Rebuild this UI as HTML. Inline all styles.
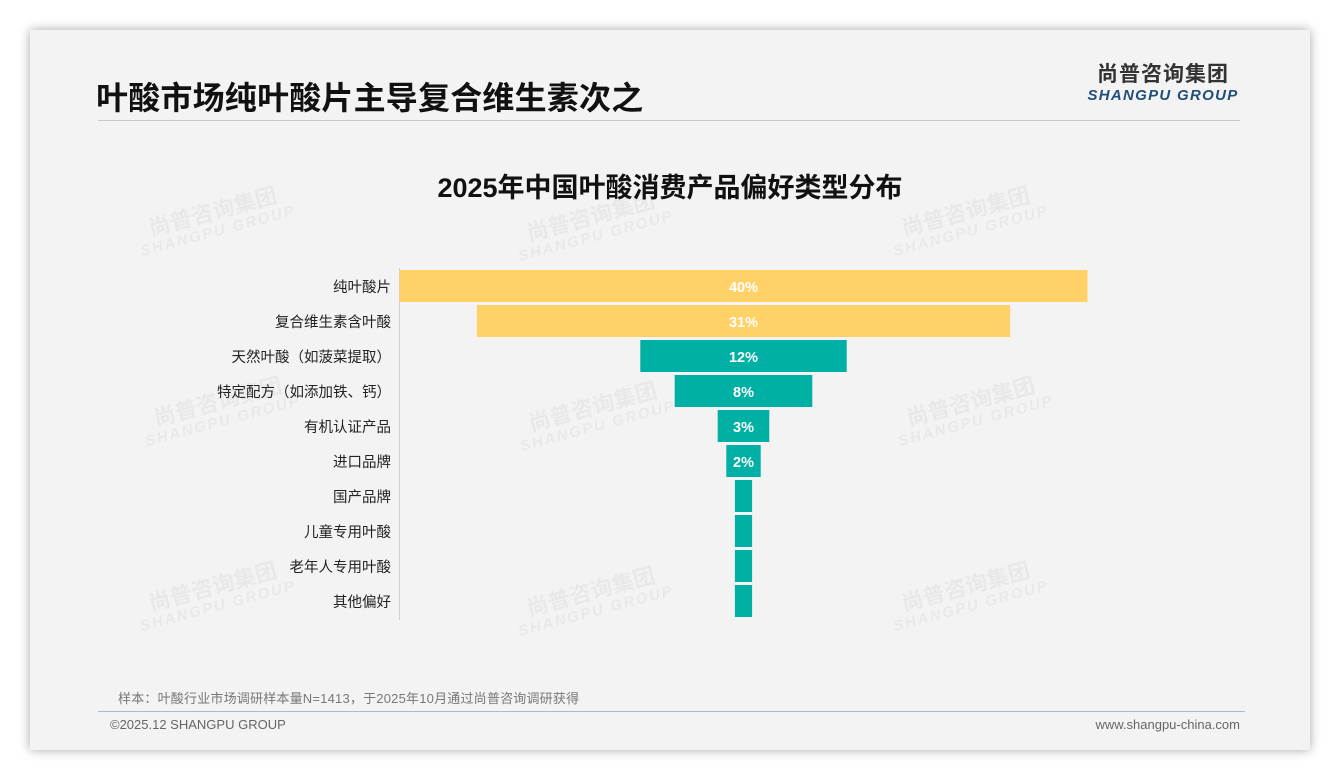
<!DOCTYPE html>
<html><head><meta charset="utf-8"><style>
body{margin:0;width:1340px;height:780px;background:#fff;position:relative;overflow:hidden;font-family:"Liberation Sans","Noto Sans CJK SC",sans-serif;}
#card{position:absolute;left:30px;top:30px;width:1280px;height:720px;background:#f3f3f3;box-shadow:0 0 10px rgba(0,0,0,0.35);}
.abs{position:absolute;}
.wm{position:absolute;color:rgba(0,0,0,0.045);transform:rotate(-15deg);font-weight:bold;line-height:1.1;text-align:center;}
</style></head><body>
<div id="card"></div>
<div class="abs" style="left:96px;top:73px;font-size:32px;font-weight:bold;color:#111;letter-spacing:0.2px;">叶酸市场纯叶酸片主导复合维生素次之</div>
<div class="abs" style="left:98px;top:120px;width:1142px;height:1px;background:#c8c8c8;"></div>
<div class="abs" style="left:1086px;top:63px;width:154px;text-align:center;">
<div style="font-size:21px;font-weight:bold;color:#333;letter-spacing:1px;line-height:24px;">尚普咨询集团</div>
<div style="font-size:15px;font-weight:bold;font-style:italic;color:#1f4e79;letter-spacing:1.3px;line-height:17px;">SHANGPU GROUP</div></div>
<div class="abs" style="left:0;width:1340px;top:166px;text-align:center;font-size:27px;font-weight:bold;color:#111;">2025年中国叶酸消费产品偏好类型分布</div>
<div id="wms"></div>
<svg class="abs" style="left:0;top:0" width="1340" height="780" id="chart"></svg>
<div class="abs" style="left:118px;top:688px;font-size:13px;color:#777;letter-spacing:0.2px;">样本：叶酸行业市场调研样本量N=1413，于2025年10月通过尚普咨询调研获得</div>
<div class="abs" style="left:98px;top:711px;width:1147px;height:1px;background:#a9bccd;"></div>
<div class="abs" style="left:110px;top:717px;font-size:13px;color:#666;">©2025.12 SHANGPU GROUP</div>
<div class="abs" style="right:100px;top:717px;font-size:13px;color:#666;">www.shangpu-china.com</div>
<script>
const categories=["纯叶酸片","复合维生素含叶酸","天然叶酸（如菠菜提取）","特定配方（如添加铁、钙）","有机认证产品","进口品牌","国产品牌","儿童专用叶酸","老年人专用叶酸","其他偏好"];
const values=[40,31,12,8,3,2,1,1,1,1];
const labels=["40%","31%","12%","8%","3%","2%","","","",""];
const colors=["#ffd166","#ffd166","#00b0a4","#00b0a4","#00b0a4","#00b0a4","#00b0a4","#00b0a4","#00b0a4","#00b0a4"];
const NS="http://www.w3.org/2000/svg";
const svg=document.getElementById('chart');
const cx=743.5, top0=270, rowH=35, barH=32, pxPer=17.2;
function w(v){return v*pxPer;}
function y(i){return top0+i*rowH;}
const ax=document.createElementNS(NS,'line');


ax.setAttribute('x1',399.5);ax.setAttribute('x2',399.5);ax.setAttribute('y1',268);ax.setAttribute('y2',620);ax.setAttribute('stroke','#d0d0d0');
svg.appendChild(ax);
categories.forEach((c,i)=>{
 const r=document.createElementNS(NS,'rect');
 
 
 r.setAttribute('x',cx-w(values[i])/2);r.setAttribute('y',y(i));r.setAttribute('width',w(values[i]));r.setAttribute('height',barH);r.setAttribute('fill',colors[i]);
 svg.appendChild(r);
 const t=document.createElementNS(NS,'text');
 
 
 t.setAttribute('x',391);t.setAttribute('y',y(i)+barH/2+6);t.setAttribute('text-anchor','end');t.setAttribute('font-size','14.5');t.setAttribute('fill','#222');
 t.textContent=c;svg.appendChild(t);
 if(labels[i]){
  const v=document.createElementNS(NS,'text');
  
  
  v.setAttribute('x',cx);v.setAttribute('y',y(i)+barH/2+6);v.setAttribute('text-anchor','middle');v.setAttribute('font-size','14.5');v.setAttribute('font-weight','bold');v.setAttribute('fill','#fff');
  v.textContent=labels[i];svg.appendChild(v);
 }
});
const wms=document.getElementById('wms');
[[135,200],[513,205],[888,200],[140,390],[515,395],[893,390],[135,575],[513,580],[888,575]].forEach(p=>{
 const d=document.createElement('div');
 
 
 d.className='wm';d.style.left=p[0]+'px';d.style.top=p[1]+'px';
 d.innerHTML='<div style="font-size:22px">尚普咨询集团</div><div style="font-size:15px;font-style:italic;letter-spacing:2px">SHANGPU GROUP</div>';
 wms.appendChild(d);
});
</script>
</body></html>
